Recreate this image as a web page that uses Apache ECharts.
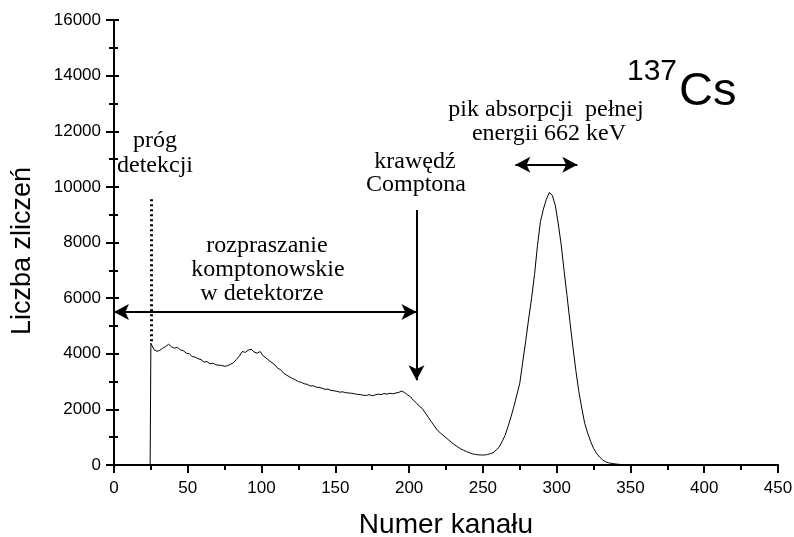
<!DOCTYPE html>
<html>
<head>
<meta charset="utf-8">
<script src="https://cdn.jsdelivr.net/npm/echarts@6/dist/echarts.min.js"></script>
<style>
  html, body { margin: 0; padding: 0; background: #fff; overflow: hidden; }
  #chart { width: 794px; height: 537px; }
</style>
</head>
<body>
<div id="chart"></div>
<script>
// widmo 137Cs, kanały co 2 od 25
const firstChannel = 25
const channelStep = 2
const counts = [
  4380, 4150, 4090, 4120, 4200, 4260, 4340, 4250, 4200, 4230,
  4140, 4110, 4020, 4000, 3900, 3880, 3820, 3790, 3700, 3720,
  3640, 3660, 3600, 3590, 3580, 3550, 3570, 3620, 3680, 3800,
  3920, 4080, 4050, 4130, 4160, 4060, 4020, 4080, 3930, 3850,
  3760, 3680, 3600, 3480, 3420, 3300, 3230, 3170, 3110, 3060,
  3000, 2970, 2920, 2900, 2840, 2850, 2800, 2790, 2760, 2720,
  2730, 2680, 2670, 2650, 2620, 2630, 2600, 2590, 2580, 2560,
  2540, 2530, 2510, 2500, 2530, 2490, 2520, 2550, 2530, 2570,
  2550, 2580, 2560, 2590, 2610, 2660, 2600, 2520, 2450, 2320,
  2230, 2110, 2030, 1870, 1720, 1560, 1410, 1260, 1160, 1070,
  980, 890, 800, 720, 650, 580, 530, 480, 440, 400,
  380, 365, 360, 360, 375, 405, 445, 540, 640, 840,
  1060, 1380, 1720, 2100, 2520, 2940, 3700, 4450, 5250, 6000,
  6850, 7900, 8750, 9200, 9550, 9800, 9700, 9350, 8700, 7950,
  7000, 6100, 5150, 4250, 3400, 2650, 2050, 1500, 1150, 850,
  600, 420, 290, 190, 120, 80, 60, 45, 30, 20,
  12, 6, 3, 0
]
const thresholdChannel = 24.5
const xTicks = [0, 450, 50]
const yTicks = [0, 16000, 2000]

// adnotacje (kanał / zliczenia)
const thresholdLine = [[25, 4450], [25, 9650]]
const comptonArrow = [[205, 9170], [205, 3050]]
const comptonSpan = [[0, 5500], [205, 5500]]
const peakSpan = [[272, 10800], [314, 10800]]

const chart = echarts.init(document.getElementById('chart'))

const spectrum = [[thresholdChannel, 0]].concat(
  counts.map((c, i) => [firstChannel + i * channelStep, c])
)

const serif = '"Liberation Serif", "DejaVu Serif", serif'
const sans = '"Liberation Sans", Arial, sans-serif'

const axisLine = { lineStyle: { color: '#000', width: 2 } }

const seg = (pts, style, s1, s2) => [
  { coord: pts[0], symbol: s1, symbolSize: [12, 15] },
  { coord: pts[1], symbol: s2, symbolSize: [12, 15], lineStyle: style }
]

const txt = (x, y, text, size, font, rotation) => ({
  type: 'text', x, y, rotation: rotation || 0,
  style: {
    text, fill: '#000',
    font: size + 'px ' + (font || serif),
    textAlign: 'center', textVerticalAlign: 'middle'
  }
})

const option = {
  animation: false,
  grid: { left: 114, right: 16, top: 20, bottom: 72, outerBoundsMode: 'none' },
  xAxis: [
    {
      type: 'value', position: 'bottom',
      min: xTicks[0], max: xTicks[1], interval: xTicks[2],
      name: 'Numer kanału', nameLocation: 'middle', nameGap: 46,
      nameTextStyle: { fontSize: 28, color: '#000', fontFamily: sans },
      axisLine,
      axisTick: { length: 8, lineStyle: { width: 2, color: '#000' } },
      minorTick: { show: true, splitNumber: 2, length: 5, lineStyle: { width: 2, color: '#000' } },
      splitLine: { show: false },
      axisLabel: { fontSize: 17, color: '#000', margin: 15, fontFamily: sans, formatter: v => String(v) }
    },
    {
      type: 'value', position: 'top',
      min: xTicks[0], max: xTicks[1], interval: xTicks[2],
      axisLine,
      axisTick: { inside: true, length: 3, lineStyle: { width: 1, color: '#000' } },
      splitLine: { show: false },
      axisLabel: { show: false }
    }
  ],
  yAxis: [
    {
      type: 'value', position: 'left',
      min: yTicks[0], max: yTicks[1], interval: yTicks[2],
      axisLine,
      axisTick: { length: 8, lineStyle: { width: 2, color: '#000' } },
      minorTick: { show: true, splitNumber: 2, length: 5, lineStyle: { width: 2, color: '#000' } },
      splitLine: { show: false },
      axisLabel: { fontSize: 17, color: '#000', margin: 13, fontFamily: sans, formatter: v => String(v) }
    },
    {
      type: 'value', position: 'right',
      min: yTicks[0], max: yTicks[1], interval: yTicks[2],
      axisLine,
      axisTick: { length: 5, lineStyle: { width: 2, color: '#000' } },
      minorTick: { show: true, splitNumber: 2, length: 4, lineStyle: { width: 2, color: '#000' } },
      splitLine: { show: false },
      axisLabel: { show: false }
    }
  ],
  series: [
    {
      type: 'line',
      data: spectrum,
      symbol: 'none',
      lineStyle: { color: '#000', width: 1 },
      markLine: {
        silent: true,
        label: { show: false },
        lineStyle: { color: '#000', width: 2, type: 'solid' },
        data: [
          seg(thresholdLine, { type: [2, 3], width: 3, color: '#000' }, 'none', 'none'),
          seg(comptonArrow, { width: 2, color: '#000' }, 'none', 'arrow'),
          seg(comptonSpan, { width: 2, color: '#000' }, 'arrow', 'arrow'),
          seg(peakSpan, { width: 2, color: '#000' }, 'arrow', 'arrow')
        ]
      }
    }
  ],
  graphic: [
    txt(23, 251, 'Liczba zliczeń', 27, sans, Math.PI / 2),
    txt(155, 141, 'próg', 24),
    txt(155, 166, 'detekcji', 24),
    txt(415, 162, 'krawędź', 24),
    txt(416, 185, 'Comptona', 24),
    txt(267, 246, 'rozpraszanie', 24),
    txt(268, 270, 'komptonowskie', 24),
    txt(262, 294, 'w detektorze', 24),
    txt(546, 110, 'pik absorpcji  pełnej', 24),
    txt(549, 134, 'energii 662 keV', 24),
    {
      type: 'text', x: 627, y: 57,
      style: { text: '137', fill: '#000', font: '30px ' + sans }
    },
    {
      type: 'text', x: 679, y: 69,
      style: { text: 'Cs', fill: '#000', font: '47px ' + sans }
    }
  ]
}

chart.setOption(option)
</script>
</body>
</html>
